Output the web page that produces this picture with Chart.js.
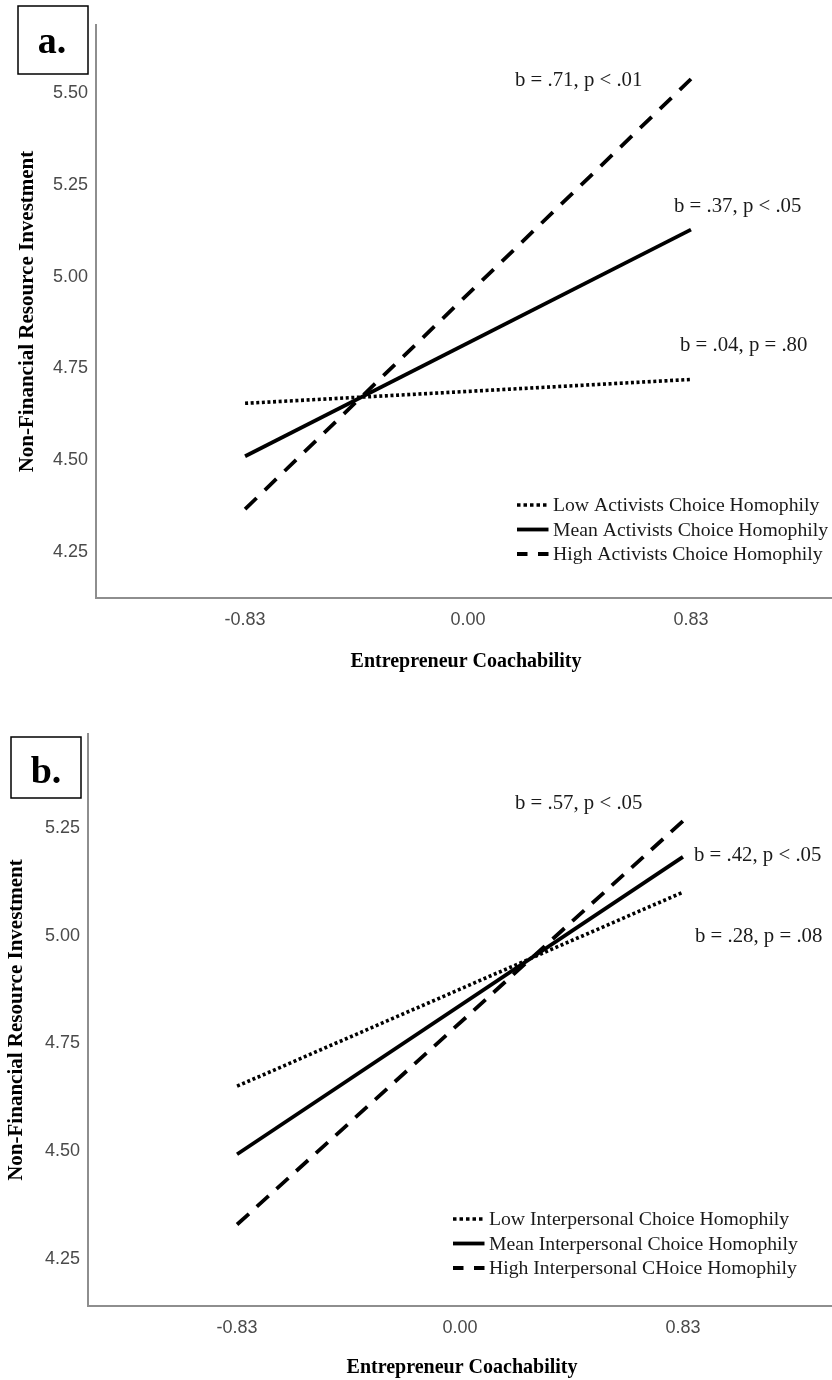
<!DOCTYPE html>
<html>
<head>
<meta charset="utf-8">
<script src="https://cdn.jsdelivr.net/npm/chart.js@4/dist/chart.umd.min.js"></script>
<style>
  html, body { margin: 0; padding: 0; background: #ffffff; }
  #wrap { position: relative; width: 832px; height: 1380px; }
  canvas { position: absolute; left: 0; }
  #ca { top: 0; }
  #cb { top: 690px; }
</style>
</head>
<body>
<div id="wrap">
  <canvas id="ca" width="832" height="690"></canvas>
  <canvas id="cb" width="832" height="690"></canvas>
</div>
<script>
// ---------- data ----------
const xValues = [-0.83, 0.83];
const xTickValues = [-0.83, 0.00, 0.83];

const aTickValuesY = [4.25, 4.50, 4.75, 5.00, 5.25, 5.50];
const aLow  = [4.655, 4.720];
const aMean = [4.511, 5.128];
const aHigh = [4.367, 5.538];
const aLabels = ["Low Activists Choice Homophily", "Mean Activists Choice Homophily", "High Activists Choice Homophily"];
const aNotes = ["b = .04, p = .80", "b = .37, p < .05", "b = .71, p < .01"];

const bTickValuesY = [4.25, 4.50, 4.75, 5.00, 5.25];
const bLow  = [4.651, 5.101];
const bMean = [4.493, 5.183];
const bHigh = [4.330, 5.266];
const bLabels = ["Low Interpersonal Choice Homophily", "Mean Interpersonal Choice Homophily", "High Interpersonal CHoice Homophily"];
const bNotes = ["b = .28, p = .08", "b = .42, p < .05", "b = .57, p < .05"];

const xTitle = "Entrepreneur Coachability";
const yTitle = "Non-Financial Resource Investment";

// ---------- styles ----------
const legendDash = [[3.5, 3], [], [10.5, 10.5]];
const SERIF = '"Liberation Serif", "Times New Roman", serif';
const SANS = '"Liberation Sans", Arial, sans-serif';

function buildChart(canvasId, p) {
  const seriesStyles = [
    { dash: [3, 2.6], width: 3.6 },   // low: dotted
    { dash: [],       width: 3.8 },   // mean: solid
    { dash: p.longDash, width: 3.8 }  // high: dashed
  ];
  const sets = [p.low, p.mean, p.high];
  const datasets = sets.map((vals, i) => ({
    label: p.labels[i],
    data: xValues.map((x, k) => ({ x: x, y: vals[k] })),
    borderColor: '#000000',
    backgroundColor: '#000000',
    borderWidth: seriesStyles[i].width,
    borderDash: seriesStyles[i].dash,
    borderCapStyle: 'butt',
    pointRadius: 0,
    fill: false,
    tension: 0
  }));

  const deco = {
    id: 'deco_' + canvasId,
    afterDraw(chart) {
      const ctx = chart.ctx;
      const ca = chart.chartArea;
      const xs = chart.scales.x, ys = chart.scales.y;
      ctx.save();
      // annotations near line ends
      ctx.fillStyle = '#1a1a1a';
      ctx.font = '20.8px ' + SERIF;
      ctx.textAlign = 'left';
      ctx.textBaseline = 'alphabetic';
      sets.forEach((vals, i) => {
        const px = xs.getPixelForValue(xValues[1]);
        const py = ys.getPixelForValue(vals[1]);
        const o = p.noteOffsets[i];
        ctx.fillText(p.notes[i], px + o[0], py + o[1]);
      });
      // legend
      const L = p.legend;
      p.labels.forEach((lab, i) => {
        const by = L.y0 + i * L.dy;
        ctx.beginPath();
        ctx.setLineDash(legendDash[i]);
        ctx.lineCap = 'butt';
        ctx.lineWidth = i === 0 ? 3.5 : 3.8;
        ctx.strokeStyle = '#000';
        ctx.moveTo(L.x0, by - 6);
        ctx.lineTo(L.x0 + 31.5, by - 6);
        ctx.stroke();
        ctx.setLineDash([]);
        ctx.fillStyle = '#1a1a1a';
        ctx.font = '19.7px ' + SERIF;
        ctx.textAlign = 'left';
        ctx.fillText(lab, L.x0 + 36, by);
      });
      // axis titles
      ctx.fillStyle = '#000';
      ctx.font = 'bold 20px ' + SERIF;
      ctx.textAlign = 'center';
      ctx.textBaseline = 'alphabetic';
      ctx.fillText(xTitle, (ca.left + ca.right) / 2 + 2, p.xTitleY);
      ctx.save();
      ctx.translate(p.yTitleX, (ca.top + ca.bottom) / 2);
      ctx.rotate(-Math.PI / 2);
      ctx.font = 'bold 21px ' + SERIF;
      ctx.fillText(yTitle, 0, 0);
      ctx.restore();
      // panel label box
      const B = p.box;
      ctx.fillStyle = '#fff';
      ctx.fillRect(B.x, B.y, B.w, B.h);
      ctx.lineWidth = 1.5;
      ctx.strokeStyle = '#000';
      ctx.strokeRect(B.x, B.y, B.w, B.h);
      ctx.fillStyle = '#000';
      ctx.font = 'bold 38px ' + SERIF;
      ctx.textAlign = 'center';
      ctx.fillText(p.panel, B.tx, B.ty);
      ctx.restore();
    }
  };

  return new Chart(document.getElementById(canvasId), {
    type: 'line',
    data: { datasets: datasets },
    options: {
      responsive: false,
      animation: false,
      layout: { padding: { top: p.top, left: 0, right: 0, bottom: 0 } },
      plugins: { legend: { display: false }, tooltip: { enabled: false } },
      scales: {
        x: {
          type: 'linear',
          min: p.xMin, max: p.xMax,
          afterBuildTicks: s => { s.ticks = xTickValues.map(v => ({ value: v })); },
          afterFit: s => { s.height = p.axisH; },
          grid: { display: false, drawTicks: false },
          border: { display: true, color: '#8e8e8e', width: 2 },
          ticks: {
            autoSkip: false, maxRotation: 0, padding: 11,
            color: '#4a4a4a', font: { family: SANS, size: 18 },
            callback: v => Number(v).toFixed(2)
          }
        },
        y: {
          type: 'linear',
          min: p.yMin, max: p.yMax,
          afterBuildTicks: s => { s.ticks = p.yTicks.map(v => ({ value: v })); },
          afterFit: s => { s.width = p.left; },
          grid: { display: false, drawTicks: false },
          border: { display: true, color: '#8e8e8e', width: 2 },
          ticks: {
            autoSkip: false, padding: 8,
            color: '#4a4a4a', font: { family: SANS, size: 18 },
            callback: v => Number(v).toFixed(2)
          }
        }
      }
    },
    plugins: [deco]
  });
}

buildChart('ca', {
  low: aLow, mean: aMean, high: aHigh, labels: aLabels, notes: aNotes, panel: 'a.',
  yTicks: aTickValuesY, xMin: -1.385, xMax: 1.355, yMin: 4.125, yMax: 5.685,
  top: 25, left: 96, axisH: 92, longDash: [16, 11.45],
  noteOffsets: [[-11, -28], [-17, -18], [-176, 7]],
  legend: { x0: 517, y0: 511, dy: 24.5 },
  xTitleY: 667, yTitleX: 33,
  box: { x: 18, y: 6, w: 70, h: 68, tx: 52, ty: 53 }
});

buildChart('cb', {
  low: bLow, mean: bMean, high: bHigh, labels: bLabels, notes: bNotes, panel: 'b.',
  yTicks: bTickValuesY, xMin: -1.385, xMax: 1.385, yMin: 4.141, yMax: 5.468,
  top: 44, left: 88, axisH: 74, longDash: [16, 10.6],
  noteOffsets: [[12, 50], [11, 4], [-168, -12]],
  legend: { x0: 453, y0: 535, dy: 24.5 },
  xTitleY: 683, yTitleX: 22,
  box: { x: 11, y: 47, w: 70, h: 61, tx: 46, ty: 93 }
});
</script>
</body>
</html>
